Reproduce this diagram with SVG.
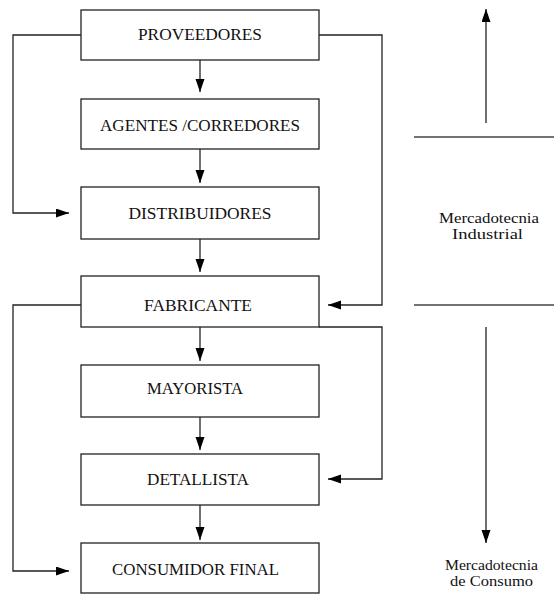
<svg xmlns="http://www.w3.org/2000/svg" width="554" height="594" viewBox="0 0 554 594">
<defs>
<marker id="ah" markerUnits="userSpaceOnUse" markerWidth="14" markerHeight="10" refX="13" refY="4.5" orient="auto">
<path d="M0,0 L13,4.5 L0,9 z" fill="#000"/>
</marker>
<style>
.box{fill:#fff;stroke:#222;stroke-width:1.3}
.lbl{font-family:"Liberation Serif","DejaVu Serif",serif;font-size:17px;fill:#111;text-anchor:middle}
.side{font-family:"Liberation Serif","DejaVu Serif",serif;font-size:14px;fill:#111;text-anchor:middle}
.arr{fill:none;stroke:#222;stroke-width:1.3;marker-end:url(#ah)}
.sep{stroke:#444;stroke-width:1.6}
</style>
</defs>
<rect width="554" height="594" fill="#fff"/>
<g id="connectors">
<line class="arr" x1="200" y1="60" x2="200" y2="92"/>
<line class="arr" x1="200" y1="149" x2="200" y2="183"/>
<line class="arr" x1="200" y1="239" x2="200" y2="272"/>
<line class="arr" x1="200" y1="327" x2="200" y2="361"/>
<line class="arr" x1="200" y1="417" x2="200" y2="450"/>
<line class="arr" x1="200" y1="505" x2="200" y2="540"/>
<polyline class="arr" points="81,35 13,35 13,213 69,213"/>
<polyline class="arr" points="319,35 382,35 382,305 328,305"/>
<polyline class="arr" points="81,305 13,305 13,571 69,571"/>
<polyline class="arr" points="319,327 382,327 382,479 328,479"/>
<line class="arr" x1="486" y1="123" x2="486" y2="9"/>
<line class="arr" x1="486" y1="327" x2="486" y2="543"/>
</g>
<g id="separators">
<line class="sep" x1="414" y1="137" x2="554" y2="137"/>
<line class="sep" x1="414" y1="305" x2="554" y2="305"/>
</g>
<g id="proveedores"><rect class="box" x="81" y="10" width="238" height="50"/><text class="lbl" x="200" y="40" textLength="124" lengthAdjust="spacingAndGlyphs">PROVEEDORES</text></g>
<g id="agentes"><rect class="box" x="81" y="99" width="238" height="50"/><text class="lbl" x="200" y="131" textLength="200" lengthAdjust="spacingAndGlyphs">AGENTES /CORREDORES</text></g>
<g id="distribuidores"><rect class="box" x="81" y="187" width="238" height="52"/><text class="lbl" x="200" y="219" textLength="143" lengthAdjust="spacingAndGlyphs">DISTRIBUIDORES</text></g>
<g id="fabricante"><rect class="box" x="81" y="276" width="238" height="51"/><text class="lbl" x="198" y="311" textLength="108" lengthAdjust="spacingAndGlyphs">FABRICANTE</text></g>
<g id="mayorista"><rect class="box" x="81" y="365" width="238" height="52"/><text class="lbl" x="195" y="394" textLength="96" lengthAdjust="spacingAndGlyphs">MAYORISTA</text></g>
<g id="detallista"><rect class="box" x="81" y="454" width="238" height="51"/><text class="lbl" x="198" y="485" textLength="102" lengthAdjust="spacingAndGlyphs">DETALLISTA</text></g>
<g id="consumidor"><rect class="box" x="81" y="543" width="238" height="50"/><text class="lbl" x="195.5" y="575" textLength="167" lengthAdjust="spacingAndGlyphs">CONSUMIDOR FINAL</text></g>
<g id="industrial"><text class="side" x="489" y="223" textLength="100" lengthAdjust="spacingAndGlyphs">Mercadotecnia</text><text class="side" x="487.5" y="239" textLength="71" lengthAdjust="spacingAndGlyphs">Industrial</text></g>
<g id="consumo"><text class="side" x="491.5" y="570" textLength="93" lengthAdjust="spacingAndGlyphs">Mercadotecnia</text><text class="side" x="491.5" y="586" textLength="83" lengthAdjust="spacingAndGlyphs">de Consumo</text></g>
</svg>
